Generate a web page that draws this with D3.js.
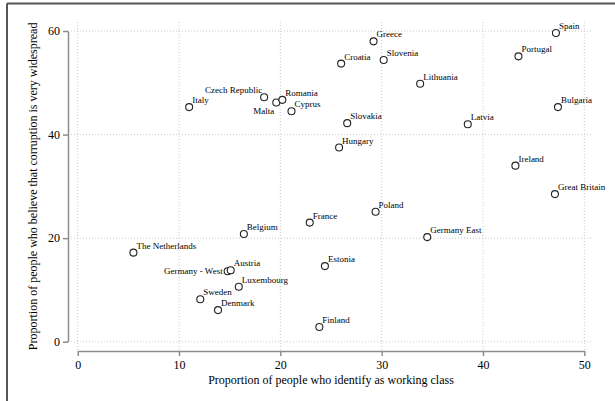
<!DOCTYPE html>
<meta charset="utf-8">
<html>
<head>
<style>
  body { margin: 0; background: #fff; }
  text { font-family: "Liberation Serif", "Times New Roman", serif; fill: #000; }
  .grid line { stroke: #c8c8c8; stroke-width: 1px; stroke-dasharray: 1,2; }
  .axis path, .axis line { stroke: #8c8c8c; stroke-width: 1.5px; }
  .axis text { font-size: 12px; }
  .lbl { font-size: 9px; }
</style>
<script src="https://cdn.jsdelivr.net/npm/d3@7"></script>
</head>
<body>
<div id="chart"></div>
<script>
// data
var countries = ["Italy","Czech Republic","Malta","Romania","Cyprus","Greece","Croatia","Slovenia",
  "Lithuania","Portugal","Spain","Bulgaria","Slovakia","Latvia","Hungary","Ireland","Great Britain",
  "The Netherlands","Belgium","Germany - West","Austria","Luxembourg","Sweden","Denmark",
  "France","Poland","Germany East","Estonia","Finland"];
var workingClass = [11.0,18.4,19.6,20.2,21.1,29.2,26.0,30.2,
  33.8,43.5,47.2,47.4,26.6,38.5,25.8,43.2,47.1,
  5.5,16.4,14.8,15.1,15.9,12.1,13.85,
  22.9,29.4,34.5,24.4,23.85];
var corruption = [45.3,47.2,46.2,46.7,44.5,58.0,53.7,54.4,
  49.8,55.1,59.6,45.3,42.2,42.0,37.5,34.0,28.5,
  17.2,20.8,13.6,13.8,10.6,8.2,6.1,
  23.0,25.1,20.2,14.6,2.85];
// label position: "r" upper right (default), "ul" upper left, "ll" lower left, "l" left
var labelPos = {"Czech Republic": "ul", "Malta": "ll", "Germany - West": "l"};
var xTicks = [0,10,20,30,40,50], yTicks = [0,20,40,60];

var W = 615, H = 401;
var svg = d3.select("#chart").append("svg").attr("width", W).attr("height", H);

// frame (only top and left edges show)
svg.append("line").attr("x1", 7).attr("x2", W).attr("y1", 3.5).attr("y2", 3.5)
  .attr("stroke", "#555").attr("stroke-width", 2);
svg.append("line").attr("x1", 7).attr("x2", 7).attr("y1", 3.5).attr("y2", H)
  .attr("stroke", "#555").attr("stroke-width", 2);

var x = d3.scaleLinear().domain([0, 50]).range([77.7, 584.3]);
var y = d3.scaleLinear().domain([0, 60]).range([341.7, 31]);

// grid
var grid = svg.append("g").attr("class", "grid");
grid.selectAll(".gx").data(xTicks).enter().append("line")
  .attr("x1", function(d) { return x(d); }).attr("x2", function(d) { return x(d); })
  .attr("y1", 22).attr("y2", 351);
grid.selectAll(".gy").data(yTicks).enter().append("line")
  .attr("x1", 68).attr("x2", 592)
  .attr("y1", function(d) { return y(d); }).attr("y2", function(d) { return y(d); });

// axes
var xAxis = svg.append("g").attr("class", "axis").attr("transform", "translate(0,351)")
  .call(d3.axisBottom(x).tickValues(xTicks).tickSize(5).tickSizeOuter(0).tickPadding(4));
var yAxis = svg.append("g").attr("class", "axis").attr("transform", "translate(68,0)")
  .call(d3.axisLeft(y).tickValues(yTicks).tickSize(5).tickSizeOuter(0).tickPadding(3));
svg.selectAll(".axis text").style("font-family", "'Liberation Serif', serif").style("font-size", "12px");

// axis titles
svg.append("text").attr("x", (x(0) + x(50)) / 2).attr("y", 384)
  .attr("text-anchor", "middle").style("font-size", "12px")
  .text("Proportion of people who identify as working class");
svg.append("text").attr("transform", "translate(37," + ((y(0) + y(60)) / 2) + ") rotate(-90)")
  .attr("text-anchor", "middle").style("font-size", "12px")
  .text("Proportion of people who believe that corruption is very widespread");

var idx = d3.range(countries.length);

svg.selectAll(".pt").data(idx).enter().append("circle")
  .attr("cx", function(i) { return x(workingClass[i]); })
  .attr("cy", function(i) { return y(corruption[i]); })
  .attr("r", 3.5).attr("fill", "#fff").attr("stroke", "#222").attr("stroke-width", 1.1);

svg.selectAll(".lbl").data(idx).enter().append("text")
  .attr("class", "lbl")
  .attr("x", function(i) {
    var p = labelPos[countries[i]] || "r";
    var cx = x(workingClass[i]);
    if (p == "r") return cx + 3;
    if (p == "l") return cx - 5;
    return cx - 2;
  })
  .attr("y", function(i) {
    var p = labelPos[countries[i]] || "r";
    var cy = y(corruption[i]);
    if (p == "ll") return cy + 12;
    if (p == "l") return cy + 3;
    return cy - 4;
  })
  .attr("text-anchor", function(i) { return (labelPos[countries[i]] || "r") == "r" ? "start" : "end"; })
  .text(function(i) { return countries[i]; });
</script>
</body>
</html>
